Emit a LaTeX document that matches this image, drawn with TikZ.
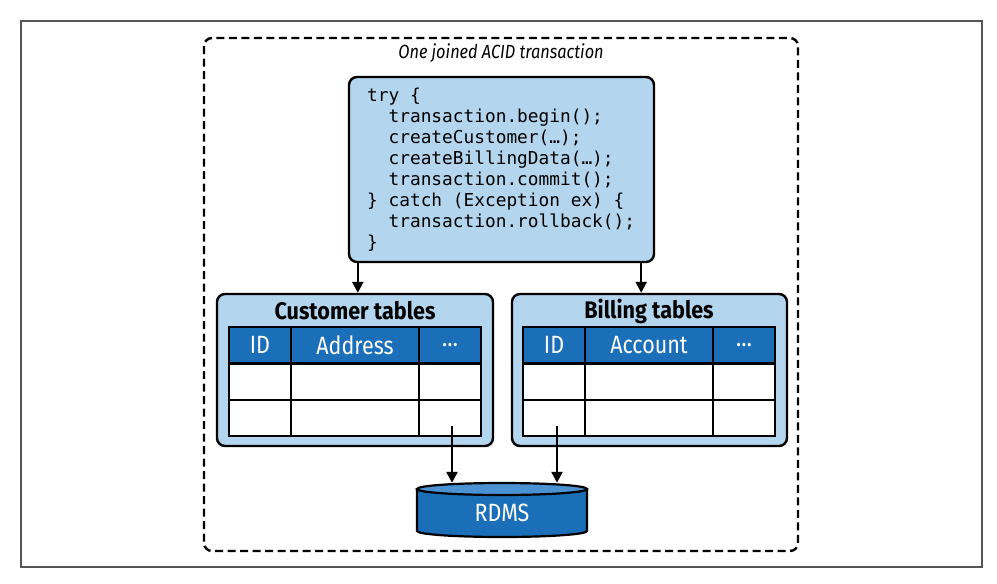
\documentclass[tikz,border=0pt]{standalone}
\usepackage{fontspec}
\setmainfont{Fira Sans}
\newfontfamily\condfont[FakeStretch=0.86]{Fira Sans}
\newfontfamily\titlefont[FakeStretch=0.9]{Fira Sans}
\newfontfamily\codefont{DejaVu Sans Mono}
\usetikzlibrary{arrows.meta}
\definecolor{lightbl}{HTML}{B3D5EE}
\definecolor{darkbl}{HTML}{1B6FB9}
\definecolor{topbl}{HTML}{4A92D2}
\definecolor{framegray}{HTML}{555555}
\tikzset{
  boxstyle/.style={draw=black, line width=2.4pt, fill=lightbl, rounded corners=8pt, inner sep=0pt},
  arr/.style={line width=2.3pt, -{Triangle[length=11pt,width=11pt]}},
  grid/.style={line width=2pt},
  hdr/.style={text=white, font=\condfont\fontsize{25}{25}\selectfont},
  ttl/.style={font=\titlefont\bfseries\fontsize{24}{24}\selectfont},
}
\begin{document}
\begin{tikzpicture}[x=1pt,y=-1pt]
\useasboundingbox (0,0) rectangle (997,584);
% outer frame
\draw[framegray, line width=1.5pt] (21,21) rectangle (982,567);
% dashed boundary
\draw[line width=2.4pt, dash pattern=on 8pt off 4.5pt, rounded corners=8pt] (204,38) rectangle (798,551);
\node[font=\condfont\itshape\fontsize{19}{19}\selectfont] (lbl) at (501,53) {One joined ACID transaction};

% code box
\node[boxstyle, minimum width=305pt, minimum height=185pt] (code) at (501.5,169.5) {};
\node[font=\codefont\fontsize{17.8}{21}\selectfont, anchor=north west, align=left, inner sep=0pt] (codetext) at (367,88) {%
try \{\\
\ \ transaction.begin();\\
\ \ createCustomer(…);\\
\ \ createBillingData(…);\\
\ \ transaction.commit();\\
\} catch (Exception ex) \{\\
\ \ transaction.rollback();\\
\}};

% customer tables
\node[boxstyle, minimum width=276pt, minimum height=152pt] (cust) at (355,370) {};
\node[ttl] (custt) at (355,311) {Customer tables};
\fill[darkbl] (229,327) rectangle (481,363);
\fill[white] (229,363) rectangle (481,436);
\draw[grid] (229,327) rectangle (481,436);
\draw[grid] (229,400) -- (481,400);
\draw[grid] (291,327) -- (291,436);
\draw[grid] (419,327) -- (419,436);
\draw[line width=3pt] (229,363) -- (481,363);
\node[hdr] (c1) at (260,345) {ID};
\node[hdr] (c2) at (355,345) {Address};
\node[hdr] (c3) at (450,345) {…};

% billing tables
\node[boxstyle, minimum width=275pt, minimum height=152pt] (bill) at (649.5,370) {};
\node[ttl] (billt) at (649,311) {Billing tables};
\fill[darkbl] (523,327) rectangle (775,363);
\fill[white] (523,363) rectangle (775,436);
\draw[grid] (523,327) rectangle (775,436);
\draw[grid] (523,400) -- (775,400);
\draw[grid] (585,327) -- (585,436);
\draw[grid] (713,327) -- (713,436);
\draw[line width=3pt] (523,363) -- (775,363);
\node[hdr] (b1) at (554,345) {ID};
\node[hdr] (b2) at (649,345) {Account};
\node[hdr] (b3) at (744,345) {…};

% RDMS cylinder
\fill[darkbl] (417,489) -- (417,531) arc[start angle=180, end angle=0, x radius=85, y radius=6] -- (587,489) -- cycle;
\draw[line width=2.2pt] (417,489) -- (417,531) arc[start angle=180, end angle=0, x radius=85, y radius=6] -- (587,489);
\draw[line width=2.2pt, fill=topbl] (502,489) ellipse[x radius=85, y radius=6];
\node[inner sep=0pt, minimum width=170pt, minimum height=54pt] (db) at (502,510) {};
\node[hdr] (dbt) at (502,513) {RDMS};

% arrows
\draw[arr] ([xshift=10pt]code.south west) -- ([xshift=10pt]code.south west |- cust.north);
\draw[arr] ([xshift=-14pt]code.south east) -- ([xshift=-14pt]code.south east |- bill.north);
\coordinate (cs) at (452,426);
\coordinate (bs) at (557,426);
\draw[arr] (cs) -- (cs |- db.north);
\draw[arr] (bs) -- (bs |- db.north);
\end{tikzpicture}
\end{document}
